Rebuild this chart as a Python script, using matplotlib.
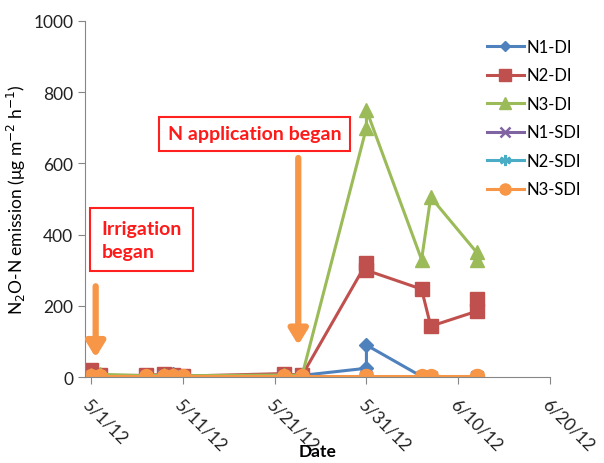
import datetime as dt
import matplotlib
matplotlib.use("Agg")
import matplotlib.pyplot as plt
import matplotlib.dates as mdates

plt.rcParams['font.family'] = ['Lato', 'DejaVu Sans']

dates = ['2012-05-01', '2012-05-02', '2012-05-07', '2012-05-09', '2012-05-10',
         '2012-05-11', '2012-05-22', '2012-05-24', '2012-05-31', '2012-05-31',
         '2012-06-06', '2012-06-07', '2012-06-12', '2012-06-12']
n1_di = [3, 2, 3, 4, 10, 3, 4, 5, 25, 90, 2, 1, 1, 1]
n2_di = [20, 5, 5, 8, 6, 3, 10, 5, 320, 300, 247, 143, 185, 220]
n3_di = [5, 8, 4, 6, 5, 4, 6, 5, 700, 750, 330, 505, 350, 330]
n1_sdi = [1, 1, 1, 2, 2, 1, 1, 1, 1, 1, 1, 1, 1, 1]
n2_sdi = [1, 1, 1, 1, 1, 1, 1, 1, 1, 1, 1, 1, 1, 1]
n3_sdi = [2, 2, 2, 2, 2, 2, 2, 2, 2, 2, 2, 2, 2, 2]

labels = ['N1-DI', 'N2-DI', 'N3-DI', 'N1-SDI', 'N2-SDI', 'N3-SDI']
colors = ['#4F81BD', '#C0504D', '#9BBB59', '#8064A2', '#4BACC6', '#F79646']
markers = ['D', 's', '^', 'x', (6, 2, 0), 'o']
msizes = [7, 10, 10, 9, 10, 10]

x = [dt.datetime.strptime(d, '%Y-%m-%d') for d in dates]

fig = plt.figure(figsize=(6.04, 4.64), dpi=100)
ax = fig.add_axes([0.141, 0.185, 0.77, 0.768])

for ys, lab, c, m, ms in zip([n1_di, n2_di, n3_di, n1_sdi, n2_sdi, n3_sdi],
                             labels, colors, markers, msizes):
    ax.plot(x, ys, color=c, lw=2.2, marker=m, ms=ms, mew=1.8 if m in ('x', (6, 2, 0)) else 1,
            mec=c, mfc=c, label=lab)

ax.set_ylim(0, 1000)
ax.set_yticks(range(0, 1001, 200))
ax.set_xlim(dt.datetime(2012, 5, 1) - dt.timedelta(days=0.6), dt.datetime(2012, 6, 20))
ax.set_xticks([dt.datetime(2012, 5, 1) + dt.timedelta(days=10 * i) for i in range(6)])
ax.xaxis.set_major_formatter(mdates.DateFormatter('%-m/%-d/%y'))

for s in ['top', 'right']:
    ax.spines[s].set_visible(False)
for s in ['left', 'bottom']:
    ax.spines[s].set_color('#868686')
ax.tick_params(axis='both', color='#868686', length=5, labelsize=12.5, labelcolor='#222222')
for t in ax.get_xticklabels():
    t.set_rotation(-45)
    t.set_ha('left')
    t.set_va('top')
    t.set_rotation_mode('anchor')
ax.tick_params(axis='x', pad=8)

ax.set_ylabel('N$_2$O-N emission (\u03bcg m$^{-2}$ h$^{-1}$)', fontsize=12.5, labelpad=4)
ax.set_xlabel('Date', fontsize=12.5, fontweight='bold', labelpad=-7)

leg = ax.legend(loc='upper left', frameon=False, fontsize=12, handlelength=2.2,
                labelspacing=0.75, handletextpad=0.2, markerscale=0.8)
leg.set_bbox_to_anchor((472 / 604, 1 - 25 / 464), transform=fig.transFigure)

arrow_c = '#F79646'
ax.annotate('', xy=(dt.datetime(2012, 5, 1, 13), 55), xytext=(dt.datetime(2012, 5, 1, 13), 255),
            arrowprops=dict(arrowstyle='-|>,head_length=0.9,head_width=0.55', lw=4.5,
                            color=arrow_c, shrinkA=0, shrinkB=0))
ax.annotate('', xy=(dt.datetime(2012, 5, 23, 14), 90), xytext=(dt.datetime(2012, 5, 23, 14), 615),
            arrowprops=dict(arrowstyle='-|>,head_length=0.9,head_width=0.55', lw=4.5,
                            color=arrow_c, shrinkA=0, shrinkB=0))

box = dict(boxstyle='square,pad=0.6', fc='white', ec='#FF2020', lw=1.5)
ax.text(dt.datetime(2012, 5, 2, 4), 385, 'Irrigation\nbegan', color='#FF1A1A', fontsize=14,
        fontweight='bold', ha='left', va='center', linespacing=1.4, bbox=box)
ax.text(dt.datetime(2012, 5, 18, 20), 683, 'N application began', color='#FF1A1A', fontsize=14,
        fontweight='bold', ha='center', va='center', bbox=dict(boxstyle='square,pad=0.45',
                                                              fc='white', ec='#FF2020', lw=1.5))

fig.savefig('out.png', dpi=100)
